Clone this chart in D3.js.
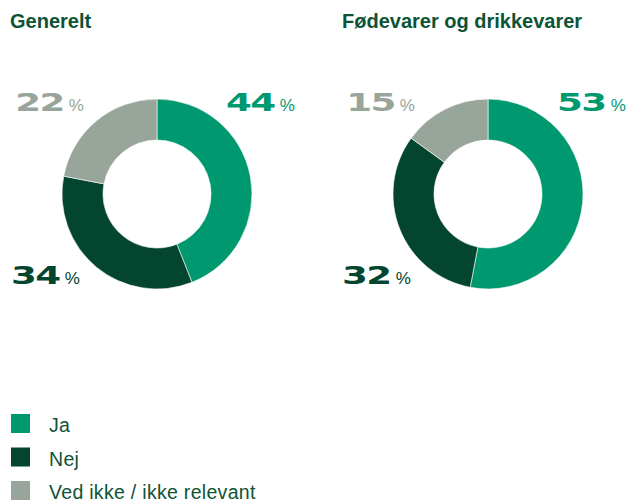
<!DOCTYPE html>
<html>
<head>
<meta charset="utf-8">
<script src="https://cdn.jsdelivr.net/npm/d3@7"></script>
<style>
    body { margin: 0; background: #fff; }
    svg { display: block; }
</style>
</head>
<body>
<div id="canvas"></div>
<script>
"use strict";

// data
const categories = ["Ja", "Nej", "Ved ikke / ikke relevant"];
const titles = ["Generelt", "Fødevarer og drikkevarer"];
const generelt = [44, 34, 22];
const foedevarer = [53, 32, 15];
const colours = ["#00986e", "#03452f", "#97a59a"];

const width = 628, height = 503;
const ink = "#0d5436";
const stretch = 1.55; // the digits are set in a wide face

let drawing = d3.select("#canvas")
    .append("svg")
    .attr("width", width)
    .attr("height", height);

let colour = d3.scaleOrdinal().domain(categories).range(colours);

let pie = d3.pie().sort(null).value(d => d.value);
let arc = d3.arc().innerRadius(54).outerRadius(95);

function donut(title, values, cx, cy, titleX) {
    let g = drawing.append("g");

    g.append("text")
        .attr("x", titleX)
        .attr("y", 28)
        .attr("font-family", "Liberation Sans, Arial, sans-serif")
        .attr("font-weight", "bold")
        .attr("font-size", 20)
        .attr("fill", ink)
        .text(title);

    let rows = categories.map((c, i) => ({ cat: c, value: values[i] }));
    let arcs = pie(rows);

    g.append("g")
        .attr("transform", `translate(${cx},${cy})`)
        .selectAll("path")
        .data(arcs)
        .join("path")
        .attr("d", arc)
        .attr("fill", d => colour(d.data.cat))
        .attr("stroke", "#fff")
        .attr("stroke-width", 0.6);

    // percentage labels sit at three corners round the ring
    arcs.forEach((d, i) => {
        let lab = g.append("g");
        let num = lab.append("text")
            .attr("font-family", "DejaVu Sans, sans-serif")
            .attr("font-weight", "bold")
            .attr("font-size", 24)
            .attr("letter-spacing", -1)
            .attr("transform", `scale(${stretch},1)`)
            .attr("fill", colour(d.data.cat))
            .text(d.data.value);
        let numW = num.node().getComputedTextLength() * stretch;
        let pct = lab.append("text")
            .attr("x", numW + 5)
            .attr("font-family", "Liberation Sans, Arial, sans-serif")
            .attr("font-size", 17)
            .attr("fill", colour(d.data.cat))
            .text("%");
        let total = numW + 5 + pct.node().getComputedTextLength();

        let x, y;
        if (i === 0) { x = cx + 69; y = cy - 83; }
        else if (i === 1) { x = cx - 146; y = cy + 90; }
        else { x = cx - 73 - total; y = cy - 83; }
        lab.attr("transform", `translate(${x},${y})`);
    });
}

donut(titles[0], generelt, 157, 194, 10);
donut(titles[1], foedevarer, 488, 194, 342);

// legend
let legend = drawing.append("g")
    .selectAll("g")
    .data(categories)
    .join("g")
    .attr("transform", (d, i) => `translate(11,${414 + i * 33.5})`);

legend.append("rect")
    .attr("width", 19)
    .attr("height", 19)
    .attr("fill", d => colour(d));

legend.append("text")
    .attr("x", 38)
    .attr("y", 18)
    .attr("font-family", "Liberation Sans, Arial, sans-serif")
    .attr("font-size", 19.5)
    .attr("letter-spacing", 0.3)
    .attr("fill", ink)
    .text(d => d);
</script>
</body>
</html>
